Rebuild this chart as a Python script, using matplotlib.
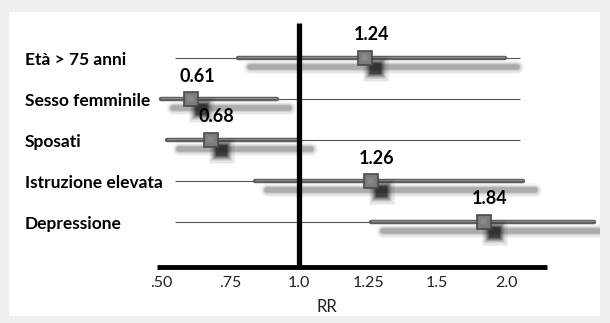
import numpy as np
import matplotlib.pyplot as plt
from matplotlib.patches import Rectangle
from matplotlib.transforms import ScaledTranslation, blended_transform_factory

plt.rcParams['font.family'] = ['Lato', 'DejaVu Sans']

# dati del grafico (rischio relativo e intervalli di confidenza)
categorie = ['Età > 75 anni', 'Sesso femminile', 'Sposati', 'Istruzione elevata', 'Depressione']
rr = [1.24, 0.61, 0.68, 1.26, 1.84]
ic_basso = [0.78, 0.50, 0.52, 0.84, 1.26]
ic_alto = [1.99, 0.92, 1.00, 2.12, 2.64]
tick_val = [0.50, 0.75, 1.0, 1.25, 1.5, 2.0]
tick_lab = ['.50', '.75', '1.0', '1.25', '1.5', '2.0']

tv = np.array(tick_val)
ti = np.arange(len(tv), dtype=float)


# scala a passo costante tra le etichette dell'asse
def avanti(v):
    v = np.asarray(v, float)
    out = np.interp(v, tv, ti)
    out = np.where(v < tv[0], (v - tv[0]) / (tv[1] - tv[0]), out)
    out = np.where(v > tv[-1], ti[-1] + (v - tv[-1]) / (tv[-1] - tv[-2]), out)
    return out


def indietro(p):
    p = np.asarray(p, float)
    out = np.interp(p, ti, tv)
    out = np.where(p < 0, tv[0] + p * (tv[1] - tv[0]), out)
    out = np.where(p > ti[-1], tv[-1] + (p - ti[-1]) * (tv[-1] - tv[-2]), out)
    return out


fig = plt.figure(figsize=(6.10, 3.23), dpi=100)
fig.patch.set_facecolor('#efefef')
pannello = Rectangle((9 / 610, 7 / 323), 591 / 610, 304 / 323, transform=fig.transFigure,
                     facecolor='white', edgecolor='none', zorder=0)
fig.add_artist(pannello)

ax = fig.add_axes([0, 0, 1, 1])
ax.set_facecolor('none')
ax.axis('off')
ax.set_xscale('function', functions=(avanti, indietro))
ax.set_xlim(float(indietro(-161 / 69)), float(indietro((610 - 161) / 69)))
ax.set_ylim((323 - 58) / 41, -58 / 41)

y = np.arange(len(categorie))


def sposta(dx, dy):
    return ax.transData + ScaledTranslation(dx / 100, -dy / 100, fig.dpi_scale_trans)


# linee sottili di riferimento
ax.hlines(y, 0.55, 2.1, color='#555555', lw=0.8, zorder=2)

# ombre delle barre
for w, a in [(10, 0.06), (8, 0.10), (6, 0.18), (4, 0.35)]:
    ombra = ax.hlines(y, ic_basso, ic_alto, color='#6a6a6a', lw=w, alpha=a,
                      transform=sposta(12, 9), capstyle='round', zorder=3)
    ombra.set_clip_path(pannello)

# barre degli intervalli
ax.hlines(y, ic_basso, ic_alto, color='#5e5e5e', lw=3.2, capstyle='round', zorder=4)
ax.hlines(y, ic_basso, ic_alto, color='#8c8c8c', lw=0.8, transform=sposta(0, -1), zorder=4)

# linea verticale RR = 1
ax.vlines(1.0, -0.85, 5.05, color='black', lw=3.8, zorder=5)

# ombre dei quadrati
for s, a in [(18, 0.10), (15, 0.18), (12, 0.35), (9, 0.55)]:
    ax.plot(rr, y, 's', ms=s, color='#111111', alpha=a, mec='none',
            transform=sposta(10, 10), ls='none', zorder=6)

ax.plot(rr, y, 's', ms=10.5, mfc='#7c7c7c', mec='#4a4a4a', mew=1.2, ls='none', zorder=7)
ax.plot(rr, y, 's', ms=5, mfc='#8a8a8a', mec='none', ls='none', zorder=7,
        transform=sposta(-1, -1))

for r, yi in zip(rr, y):
    ax.text(r, yi, f'{r:.2f}', transform=sposta(6, -23), ha='center', va='center',
            fontsize=13, fontweight='bold', color='black', zorder=8)

# asse x
ax.hlines(5.10, 0.4855, 2.297, color='black', lw=3.5, zorder=5)
for v, lab in zip(tick_val, tick_lab):
    ax.text(v, 5.49, lab, ha='center', va='center', fontsize=11.5, color='#222222')
fig.text(327 / 610, 1 - 307 / 323, 'RR', ha='center', va='center', fontsize=12, color='#222222')

tr = blended_transform_factory(ax.transAxes, ax.transData)
for c, yi in zip(categorie, y):
    ax.text(25 / 610, yi + 0.05, c, transform=tr, ha='left', va='center',
            fontsize=12.5, fontweight='bold', color='black')

fig.savefig('out.png', dpi=100)
